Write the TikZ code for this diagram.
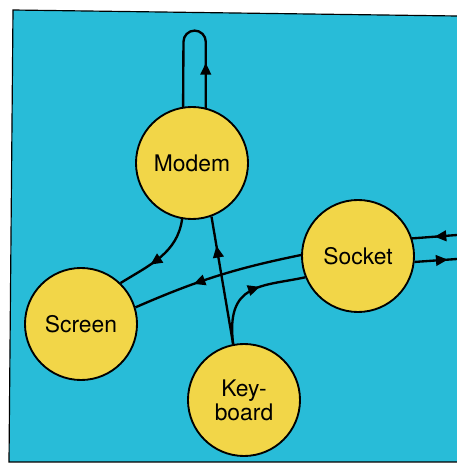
\documentclass[tikz,border=0pt]{standalone}
\usepackage{tikz}
\usepackage{xcolor}
\usepackage{fontspec}
\setmainfont{TeX Gyre Heros}
\usetikzlibrary{arrows.meta,decorations.markings}

\begin{document}
\begin{tikzpicture}[x=0.03cm,y=0.03cm,
		nodo/.style={circle,draw=black,line width=1.6pt,fill=myyellow,minimum size=3.36cm,inner sep=0pt,align=center,font=\fontsize{19.5}{20.5}\selectfont},
		flujo/.style={line width=2pt},
		flecha/.style={postaction={decorate},decoration={markings,mark=at position #1 with {\arrow{Triangle[length=10pt,width=9pt]}}}}]
		%COLORES
		\definecolor{myblue}{RGB}{40,188,216}
		\definecolor{myyellow}{RGB}{242,214,72}

		%FONDO
		\useasboundingbox (0,0) rectangle (457,465);
		\fill[white] (0,0) rectangle (457,465);
		\filldraw[fill=myblue,draw=black,line width=1pt] (457,449) -- (13,455) -- (9,3) -- (457,3);

		%NODOS
		\node[nodo] (modem) at (192,302) {Modem};
		\node[nodo] (socket) at (358,209) {Socket};
		\node[nodo] (screen) at (81,141) {Screen};
		\node[nodo] (keyboard) at (244,65) {Key-\\board};

		%ENTRADA Y SALIDA
		\coordinate (entrada) at (457,230);
		\coordinate (salida) at (457,206);

		%FLECHAS
		\draw[flujo,flecha=0.27] (modem.76) -- ++(0,66) arc[start angle=0,end angle=180,radius=11.15] -- (modem.99);
		\draw[flujo,flecha=0.62] (modem.260) to[out=262,in=32] (screen.46);
		\draw[flujo,flecha=0.77] (keyboard.101) -- (modem.290);
		\draw[flujo,flecha=0.64] (socket.179) to[bend right=6] (screen.17);
		\draw[flujo,flecha=0.6] (keyboard.101) .. controls +(97:62) and +(192:45) .. (socket.202);
		\draw[flujo,flecha=0.5] (entrada) -- (socket.18);
		\draw[flujo,flecha=0.78] (socket.-6) -- (salida);
	\end{tikzpicture}
\end{document}
